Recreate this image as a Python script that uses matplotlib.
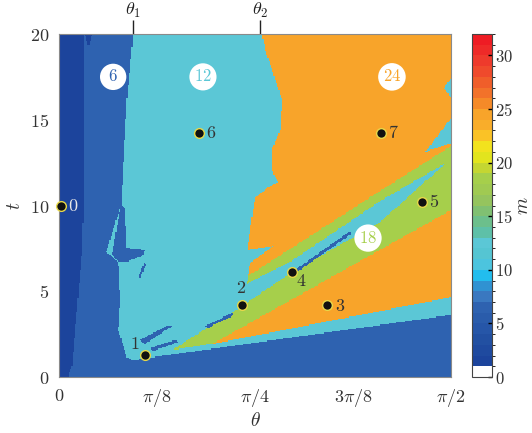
import numpy as np
import matplotlib
matplotlib.use('Agg')
import matplotlib.pyplot as plt
from matplotlib.path import Path
from matplotlib.colors import ListedColormap, BoundaryNorm

plt.rcParams['mathtext.fontset'] = 'cm'
plt.rcParams['font.family'] = 'serif'
plt.rcParams['font.serif'] = ['DejaVu Serif']

# 区域边界 (theta 以 pi/2 为单位, t)
strip_f = [0.0, 0.023, 0.033, 0.041, 0.048, 0.059, 0.064, 0.064, 0.0]
strip_t = [0.0, 0.0, 0.70, 2.74, 4.49, 7.41, 11.49, 20.0, 20.0]
notch_f = [0.066, 0.084, 0.075]
notch_t = [20.0, 20.0, 19.2]

cyan_f = [0.189, 1.0, 1.0, 0.189, 0.173, 0.151, 0.156, 0.151, 0.120, 0.158, 0.173]
cyan_t = [20.0, 20.0, 3.62, 0.99, 1.17, 2.74, 4.49, 6.71, 7.29, 10.03, 16.15]

spike_f = [0.158, 0.168, 0.173, 0.219, 0.212, 0.171, 0.151, 0.135]
spike_t = [10.03, 9.85, 7.52, 7.41, 7.06, 6.71, 6.71, 7.17]

orange_f = [0.518, 1.0, 1.0, 0.819, 0.482, 0.487, 0.546, 0.480, 0.492, 0.500,
            0.531, 0.559, 0.543, 0.543, 0.564, 0.569, 0.546, 0.526]
orange_t = [20.0, 20.0, 13.47, 10.85, 5.89, 6.65, 7.64, 7.41, 9.33, 10.44,
            11.02, 11.37, 12.07, 13.24, 14.40, 16.15, 17.73, 19.07]

patch1_f = [1.0, 0.982, 1.0]
patch1_t = [17.43, 16.85, 16.27]
patch2_f = [1.0, 0.934, 1.0]
patch2_t = [15.10, 13.12, 13.64]

green_f = [0.288, 0.467, 0.482, 0.819, 1.0, 1.0, 0.398]
green_t = [1.57, 4.14, 5.89, 10.85, 13.47, 9.74, 1.98]

wedge_f = [0.452, 0.594, 0.819, 0.987, 0.819, 0.589, 0.492, 0.462]
wedge_t = [3.91, 6.12, 9.04, 12.48, 10.26, 6.71, 5.60, 5.19]

line_f = [0.605, 0.742, 0.745, 0.607]
line_t = [6.30, 8.51, 8.34, 6.12]

orange2_f = [0.390, 1.0, 1.0]
orange2_t = [1.92, 9.74, 4.66]

stripeA_f = [0.207, 0.278, 0.288, 0.219]
stripeA_t = [2.16, 3.03, 2.97, 1.92]
stripeB_f = [0.232, 0.296, 0.304, 0.240]
stripeB_t = [1.69, 2.16, 2.04, 1.52]
stripeC_f = [0.372, 0.441, 0.446, 0.380]
stripeC_t = [2.97, 3.73, 3.61, 2.86]
stripeD_f = [0.202, 0.217, 0.222, 0.207]
stripeD_t = [5.83, 6.65, 6.59, 5.77]

layers = [
    (strip_f, strip_t, 1), (notch_f, notch_t, 1),
    (cyan_f, cyan_t, 12), (spike_f, spike_t, 6),
    (orange_f, orange_t, 24), (patch1_f, patch1_t, 12), (patch2_f, patch2_t, 12),
    (green_f, green_t, 18), (wedge_f, wedge_t, 12), (line_f, line_t, 6),
    (orange2_f, orange2_t, 24),
    (stripeA_f, stripeA_t, 6), (stripeB_f, stripeB_t, 6),
    (stripeC_f, stripeC_t, 6), (stripeD_f, stripeD_t, 6),
]

# 标记点
pts_f = [0.005, 0.219, 0.467, 0.684, 0.594, 0.925, 0.357, 0.820]
pts_t = [10.0, 1.28, 4.2, 4.2, 6.15, 10.2, 14.2, 14.2]
pts_lab = ['0', '1', '2', '3', '4', '5', '6', '7']
lab_off = [(9, 0), (-7, 8), (-1, 12), (9, -1), (7, -7), (9, 0), (9, 0), (9, 0)]

# 区域标注
reg_lab = ['6', '12', '24', '18']
reg_f = [0.138, 0.367, 0.849, 0.788]
reg_t = [17.5, 17.5, 17.5, 8.1]

theta_marks = [0.189, 0.513]

# 颜色表 (0..32)
cb_colors = ['#ffffff', '#1c449c', '#1f4a9f', '#2250a2', '#2656a8', '#2a5cab',
             '#2e62b0', '#3a78c0', '#3092d2', '#22bdee', '#4cc4de', '#55c5d2',
             '#5bc7d6', '#5ec0a8', '#6cbf8c', '#80c072', '#95c45e', '#a0ca52',
             '#a6cf4b', '#c4d632', '#e2e41e', '#f2e21e', '#fac226', '#f9ad2a',
             '#f8a42a', '#f58a28', '#f2722a', '#f05e2a', '#ef4a2c', '#ee3a2c',
             '#ee2a28', '#ee1c24']
cmap = ListedColormap(cb_colors)
norm = BoundaryNorm(np.arange(33), 32)

# 构建网格
nx_, ny_ = 320, 300
fe = np.linspace(0, 1, nx_ + 1)
te = np.linspace(0, 20, ny_ + 1)
fc = 0.5 * (fe[:-1] + fe[1:])
tc = 0.5 * (te[:-1] + te[1:])
FF, TT = np.meshgrid(fc, tc)
pts = np.column_stack([FF.ravel(), TT.ravel() / 20.0])
M = np.full(FF.size, 6.5)
for lf, lt, val in layers:
    poly = Path(np.column_stack([lf, np.array(lt) / 20.0]))
    M[poly.contains_points(pts)] = val + 0.5
M = M.reshape(FF.shape)

fig = plt.figure(figsize=(5.32, 4.33), dpi=100)
ax = fig.add_axes([0.111, 0.1293, 0.737, 0.7922])
cax = fig.add_axes([0.887, 0.1293, 0.0376, 0.7922])

half = np.pi / 2
mesh = ax.pcolormesh(fe * half, te, M, cmap=cmap, norm=norm, shading='flat')
ax.set_xlim(0, half)
ax.set_ylim(0, 20)

for s in ax.spines.values():
    s.set_color('#8a8a8a')
ax.set_xticks([0, np.pi / 8, np.pi / 4, 3 * np.pi / 8, np.pi / 2])
ax.set_xticklabels([r'$0$', r'$\pi/8$', r'$\pi/4$', r'$3\pi/8$', r'$\pi/2$'])
ax.set_yticks([0, 5, 10, 15, 20])
ax.set_yticklabels([r'$0$', r'$5$', r'$10$', r'$15$', r'$20$'])
ax.tick_params(length=0, labelsize=13, labelcolor='#333333', pad=7)
ax.set_xlabel(r'$\theta$', fontsize=14, color='#333333', labelpad=2)
ax.set_ylabel(r'$t$', fontsize=14, color='#333333', labelpad=4)

top = ax.secondary_xaxis('top')
top.set_xticks([v * half for v in theta_marks])
top.set_xticklabels([r'$\theta_1$', r'$\theta_2$'])
top.tick_params(direction='inout', length=20, width=1, colors='#222222', labelsize=13, pad=0)
top.spines['top'].set_visible(False)

ax.plot(np.array(pts_f) * half, pts_t, 'o', ms=7, mfc='#111111', mec='#e8d84a', mew=1.0,
        clip_on=False, zorder=5)
for f, t, lab, off in zip(pts_f, pts_t, pts_lab, lab_off):
    col = '#e8e8e8' if lab == '0' else '#333333'
    ax.annotate(r'$%s$' % lab, (f * half, t), xytext=off, textcoords='offset points',
                ha='center', va='center', fontsize=13, color=col, zorder=6)

for lab, f, t in zip(reg_lab, reg_f, reg_t):
    val = int(lab)
    ax.text(f * half, t, r'$%s$' % lab, ha='center', va='center', fontsize=12,
            color=cb_colors[val],
            bbox=dict(boxstyle='circle,pad=0.28', fc='white', ec='none'))

cb = fig.colorbar(mesh, cax=cax, ticks=[0, 5, 10, 15, 20, 25, 30])
cb.ax.set_yticklabels([r'$0$', r'$5$', r'$10$', r'$15$', r'$20$', r'$25$', r'$30$'])
cb.ax.tick_params(direction='in', length=3, width=1, labelsize=12, labelcolor='#333333', pad=2)
cb.outline.set_edgecolor('#444444')
cb.set_label(r'$m$', fontsize=14, color='#333333', labelpad=1)

fig.savefig('out.png', dpi=100)
